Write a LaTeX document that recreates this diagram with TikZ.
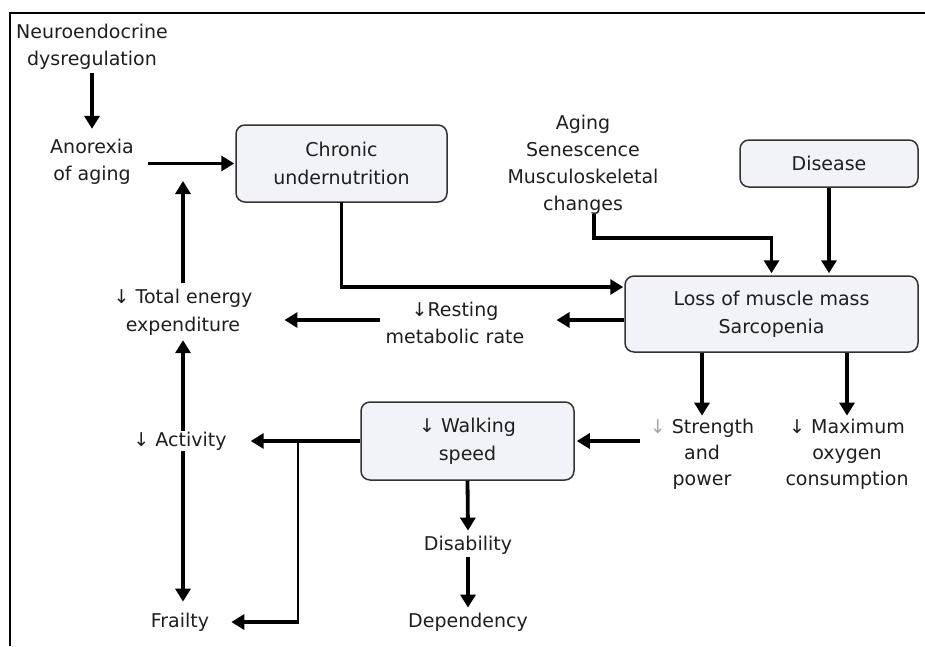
\documentclass[tikz,border=0pt]{standalone}
\usepackage{fontspec}
\setmainfont{DejaVu Sans}
\usetikzlibrary{arrows.meta,calc}
\definecolor{boxfill}{HTML}{F2F3F8}
\definecolor{txt}{HTML}{1E1E1E}
\begin{document}
\begin{tikzpicture}[x=1pt,y=-1pt,
  lbl/.style={align=center,text=txt,font=\fontsize{19}{27.5}\selectfont,inner sep=2pt},
  bx/.style={lbl,draw=black!80,line width=1.5pt,fill=boxfill,rounded corners=9pt},
  arr/.style={line width=3.8pt,-{Triangle[length=13pt,width=15pt]}},
  ln/.style={line width=2.6pt}]
\useasboundingbox (0,0) rectangle (925,646);
\draw[line width=2.5pt] (10,646) -- (10,13) -- (925,13);

\node[lbl] (neuro) at (92,47) {Neuroendocrine\\dysregulation};
\node[lbl] (anorexia) at (92,162) {Anorexia\\of aging};
\node[bx,minimum width=211pt,minimum height=77pt] (chronic) at (341.5,163.5) {Chronic\\undernutrition};
\node[lbl,font=\fontsize{19}{27}\selectfont] (aging) at (583,165) {Aging\\Senescence\\Musculoskeletal\\changes};
\node[bx,minimum width=178pt,minimum height=47pt] (disease) at (829,163.5) {Disease};
\node[bx,minimum width=293pt,minimum height=76pt] (loss) at (771.5,314) {Loss of muscle mass\\Sarcopenia};
\node[lbl] (resting) at (455,323) {↓Resting\\metabolic rate};
\node[lbl] (total) at (183,312) {↓ Total energy\\expenditure};
\node[lbl] (activity) at (180,441) {↓ Activity};
\node[lbl] (frailty) at (180,622) {Frailty};
\node[bx,minimum width=213pt,minimum height=78pt] (walking) at (467.5,441) {↓ Walking\\speed};
\node[lbl,font=\fontsize{19}{26}\selectfont] (strength) at (702,454) {{\color{black!35}↓} Strength\\and\\power};
\node[lbl,font=\fontsize{19}{26}\selectfont] (maximum) at (847,454) {↓ Maximum\\oxygen\\consumption};
\node[lbl] (disability) at (468,545) {Disability};
\node[lbl] (dependency) at (468,622) {Dependency};

\coordinate (j1) at (183,181);
\coordinate (lw) at ([yshift=-6pt]loss.west);
\coordinate (rw) at ([xshift=-4pt,yshift=3pt]resting.west);

% connectors
\draw[arr] ([yshift=-1pt]neuro.south) -- ([yshift=8pt]anorexia.north);
\draw[arr] ([xshift=12pt]anorexia.east |- chronic.west) -- ([xshift=-1pt]chronic.west);
\draw[arr] ([yshift=4pt]total.north -| j1) -- (j1);
\draw[arr] ([yshift=1pt]chronic.south) |- ([xshift=-1pt,yshift=27pt]loss.west);
\draw[arr] ([xshift=11pt,yshift=3pt]aging.south) -- ++(0,24) -| ([yshift=2pt]loss.north);
\draw[arr] (disease.south) -- ([yshift=2pt]disease.south |- loss.north);
\draw[arr] (lw) -- ([xshift=30pt]resting.east |- lw);
\draw[arr] (rw) -- ([xshift=30pt]total.east |- rw);
\draw[arr] ([yshift=-1pt]activity.north -| j1) -- ([yshift=-3pt]total.south -| j1);
\draw[arr] ([yshift=1pt]activity.south -| j1) -- ([yshift=9pt]frailty.north -| j1);
\draw[arr] (walking.west) -- ([xshift=22pt]activity.east);
\coordinate (br) at (298,441);
\draw[ln] (br) -- (br |- frailty.east);
\draw[arr] ([xshift=1.3pt]br |- frailty.east) -- ([xshift=20pt]frailty.east);
\draw[arr] ([xshift=-8pt]strength.west |- walking.east) -- ([xshift=2pt]walking.east);
\draw[arr] (loss.south -| strength) -- ([yshift=1pt]strength.north);
\draw[arr] (loss.south -| maximum) -- ([yshift=1pt]maximum.north);
\draw[arr] (walking.south) -- ([yshift=3pt]disability.north);
\draw[arr] ([yshift=-1pt]disability.south) -- ([yshift=3pt]dependency.north);
\end{tikzpicture}
\end{document}
